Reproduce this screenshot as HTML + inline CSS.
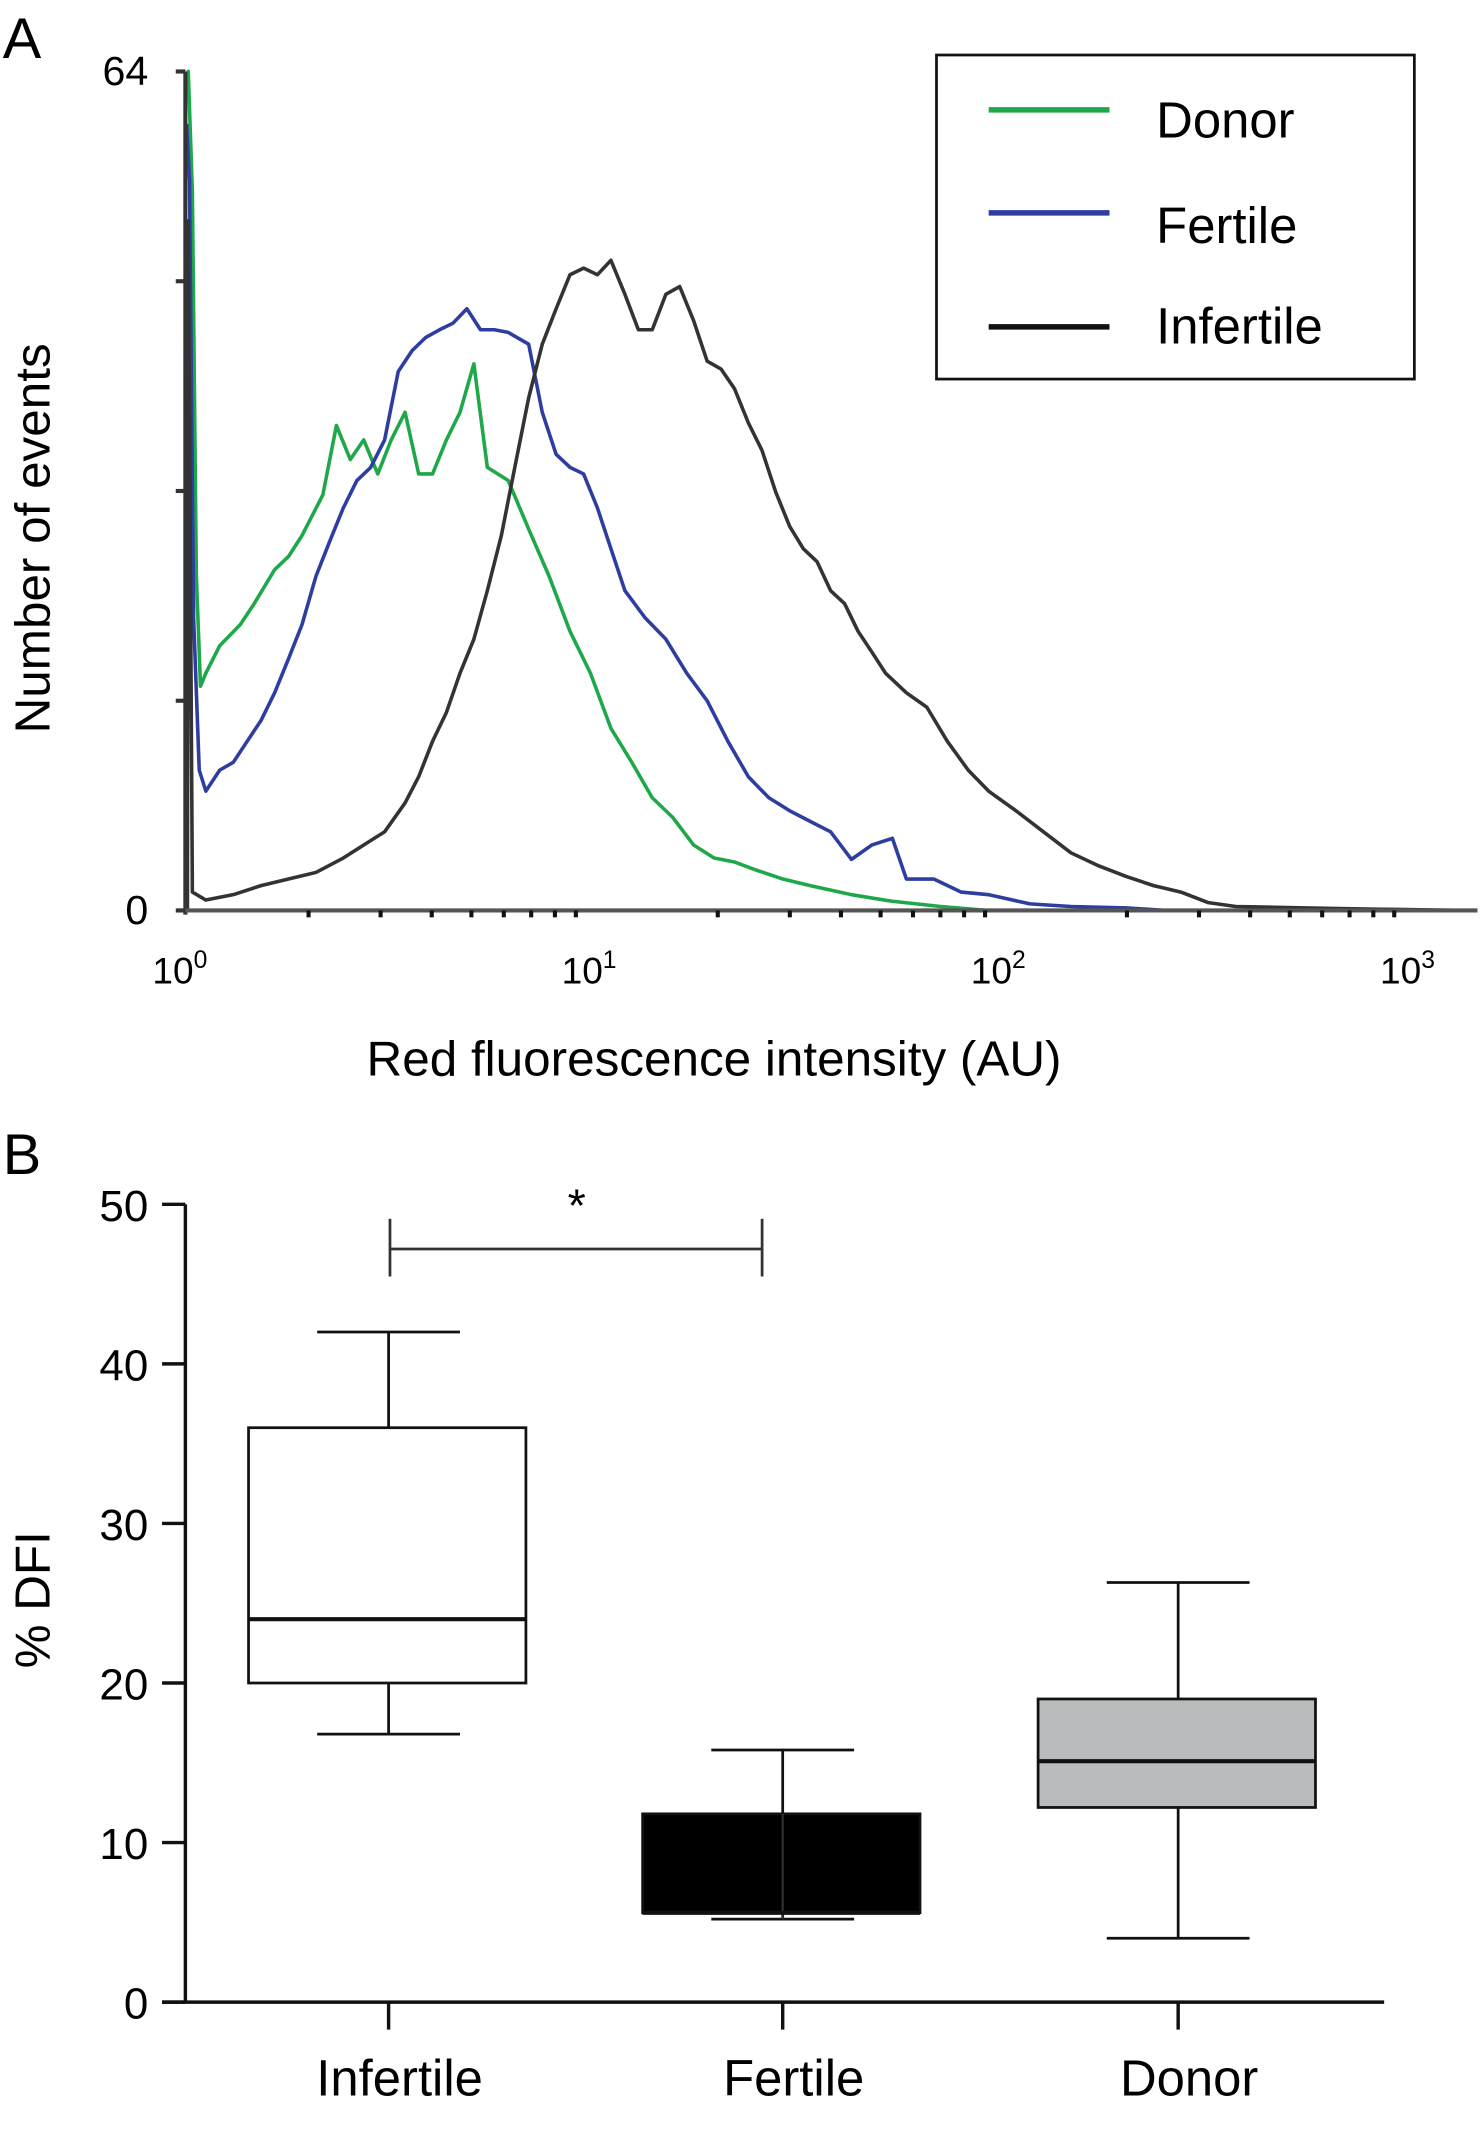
<!DOCTYPE html>
<html><head><meta charset="utf-8"><style>
html,body{margin:0;padding:0;background:#fff;}
svg{display:block;font-family:"Liberation Sans",sans-serif;}
</style></head><body>
<svg id="fig" width="1483" height="2156" viewBox="0 0 1080 1570" xmlns="http://www.w3.org/2000/svg">
<g id="pa"></g>
<g id="pb"></g>
</svg>
<script>
// Panel A data: log10 intensity and event counts
const donorLog=[0.003,0.007,0.017,0.027,0.037,0.050,0.084,0.134,0.168,0.218,0.252,0.285,0.336,0.369,0.403,0.436,0.470,0.503,0.537,0.570,0.604,0.638,0.671,0.705,0.738,0.789,0.839,0.889,0.940,0.990,1.040,1.091,1.141,1.191,1.242,1.292,1.342,1.393,1.460,1.527,1.628,1.728,1.846,1.963];
const donorCount=[64,64,54.8,25.5,17.1,18.1,20.2,21.8,23.4,26.0,27.0,28.6,31.7,37.0,34.4,35.9,33.3,35.9,38.0,33.3,33.3,35.9,38.0,41.7,33.8,32.8,29.1,25.5,21.3,18.1,13.9,11.3,8.6,7.1,5.0,4.0,3.7,3.1,2.4,1.9,1.2,0.7,0.3,0];
const fertileLog=[0.003,0.010,0.020,0.034,0.050,0.084,0.117,0.151,0.185,0.218,0.252,0.285,0.319,0.352,0.386,0.419,0.453,0.487,0.520,0.554,0.587,0.621,0.654,0.688,0.721,0.755,0.789,0.839,0.872,0.906,0.940,0.973,1.007,1.040,1.074,1.124,1.174,1.225,1.275,1.326,1.376,1.426,1.477,1.527,1.577,1.628,1.678,1.728,1.762,1.829,1.896,1.963,2.064,2.164,2.299,2.399];
const fertileCount=[60,55.7,22.3,10.7,9.1,10.7,11.3,12.9,14.5,16.6,19.2,21.8,25.5,28.1,30.7,32.8,33.8,35.9,41.1,42.7,43.7,44.3,44.8,45.9,44.3,44.3,44.1,43.2,38.0,34.8,33.8,33.3,30.7,27.6,24.4,22.3,20.7,18.1,16.0,12.9,10.2,8.6,7.6,6.8,6.0,3.9,5.0,5.5,2.4,2.4,1.4,1.2,0.5,0.3,0.2,0];
const infertileLog=[0.005,0.007,0.017,0.050,0.117,0.185,0.252,0.319,0.386,0.436,0.487,0.537,0.570,0.604,0.638,0.671,0.705,0.738,0.772,0.805,0.839,0.872,0.906,0.940,0.973,1.007,1.040,1.074,1.107,1.141,1.174,1.208,1.242,1.275,1.309,1.342,1.376,1.409,1.443,1.477,1.510,1.544,1.577,1.611,1.644,1.678,1.711,1.762,1.812,1.862,1.913,1.963,2.030,2.097,2.164,2.232,2.299,2.366,2.433,2.500,2.567,2.735,2.903,3.138];
const infertileCount=[0,52.6,1.4,0.8,1.2,1.9,2.4,2.9,4.0,5.0,6.0,8.2,10.2,12.9,15.1,18.1,20.7,24.4,28.6,33.8,39.1,43.2,45.9,48.5,49.0,48.5,49.6,47.0,44.3,44.3,47.0,47.6,45.0,41.9,41.3,39.8,37.2,35.1,31.9,29.3,27.6,26.6,24.4,23.4,21.3,19.7,18.1,16.6,15.5,12.9,10.7,9.1,7.6,6.0,4.4,3.4,2.6,1.9,1.4,0.6,0.3,0.2,0.1,0];
const aYTicks=[0,16,32,48,64];
const aYLabels=["0","","","","64"];
const aXDecades=[0,1,2,3];
// Panel B data
const groups=["Infertile","Fertile","Donor"];
const whiskLo=[16.8,5.2,4.0];
const q1=[20,5.6,12.2];
const med=[24,5.6,15.1];
const q3=[36,11.8,19];
const whiskHi=[42,15.8,26.3];
const fills=["#ffffff","#000000","#b9bcbc"];
const bYTicks=[0,10,20,30,40,50];
const sigY=47.2;

const NS="http://www.w3.org/2000/svg";
function mk(parent,tag,attrs,txt){const e=document.createElementNS(NS,tag);for(const k in attrs)e.setAttribute(k,attrs[k]);if(txt!==undefined)e.textContent=txt;parent.appendChild(e);return e;}

// ---- Panel A
const pa=document.getElementById('pa');
const ax=l=>135+l*298;
const ay=c=>663-c*611/64;
let t=mk(pa,'text',{x:2,y:42,'font-size':42},'A');


// series
const series=[[donorLog,donorCount,'#1fa84a','donor-line'],[fertileLog,fertileCount,'#2d3ea0','fertile-line'],[infertileLog,infertileCount,'#333333','infertile-line']];
series.forEach(s=>{
  const d=s[0].map((l,i)=>(i?'L':'M')+ax(l).toFixed(1)+','+ay(s[1][i]).toFixed(1)).join('');
  const p=mk(pa,'path',{d:d,fill:'none',stroke:s[2],'stroke-width':2.6,'stroke-linejoin':'round'});
  
  
});
// axes
let yaxis=mk(pa,'line',{x1:135,y1:ay(64),x2:135,y2:666,stroke:'#333',"stroke-width":3});


let xaxis=mk(pa,'line',{x1:129,y1:663,x2:1076,y2:663,stroke:'#555',"stroke-width":3});


aYTicks.forEach((v,i)=>{
  const tk=mk(pa,'line',{x1:128,x2:135,y1:ay(v),y2:ay(v),stroke:'#333','stroke-width':3});
  
  
  if(aYLabels[i]){const lb=mk(pa,'text',{x:108,y:ay(v)+10,'font-size':30,'text-anchor':'end'},aYLabels[i]);
  
  }
});
aXDecades.forEach(dd=>{
  const lb=mk(pa,'text',{x:ax(dd)-4,y:716,'font-size':27,'text-anchor':'middle'});
  
  
  lb.innerHTML='10<tspan dy="-11" font-size="18">'+dd+'</tspan>';
  if(dd<3){for(let m=2;m<=9;m++){const mt=mk(pa,'line',{x1:ax(dd+Math.log10(m)),x2:ax(dd+Math.log10(m)),y1:663,y2:668,stroke:'#111','stroke-width':3});
  
  }}
});
t=mk(pa,'text',{x:520,y:783,'font-size':36,'text-anchor':'middle'},'Red fluorescence intensity (AU)');


t=mk(pa,'text',{x:0,y:0,'font-size':36,'text-anchor':'middle',transform:'translate(36,392) rotate(-90)'},'Number of events');


// legend
const lg=mk(pa,'g',{});


mk(lg,'rect',{x:682,y:40,width:348,height:236,fill:'#fff',stroke:'#111','stroke-width':2});
[['Donor','#1fa84a',80,100],['Fertile','#2d3ea0',155,177],['Infertile','#111',238,250]].forEach(e=>{
  const ge=mk(lg,'g',{});
  
  
  mk(ge,'line',{x1:720,x2:808,y1:e[2],y2:e[2],stroke:e[1],'stroke-width':4});
  mk(ge,'text',{x:842,y:e[3],'font-size':37},e[0]);
});

// ---- Panel B
const pb=document.getElementById('pb');
const by=v=>1458-v*11.62;
const bx=[283,570,858];
t=mk(pb,'text',{x:2,y:855,'font-size':42},'B');


let bya=mk(pb,'line',{x1:135,x2:135,y1:by(50),y2:1459,stroke:'#111','stroke-width':2.5});


let bxa=mk(pb,'line',{x1:118,x2:1008,y1:1458,y2:1458,stroke:'#111','stroke-width':2.5});


bYTicks.forEach(v=>{
  const tk=mk(pb,'line',{x1:118,x2:135,y1:by(v),y2:by(v),stroke:'#111','stroke-width':2.5});
  
  
  const lb=mk(pb,'text',{x:108,y:by(v)+12,'font-size':32,'text-anchor':'end'},String(v));
  
  
});
t=mk(pb,'text',{x:0,y:0,'font-size':36,'text-anchor':'middle',transform:'translate(36,1165) rotate(-90)'},'% DFI');


groups.forEach((g,i)=>{
  const cx=bx[i];
  const grp=mk(pb,'g',{});
  
  
  mk(grp,'line',{x1:cx,x2:cx,y1:by(whiskHi[i]),y2:by(q3[i]),stroke:'#111','stroke-width':2});
  mk(grp,'line',{x1:cx,x2:cx,y1:by(q1[i]),y2:by(whiskLo[i]),stroke:'#111','stroke-width':2});
  mk(grp,'line',{x1:cx-52,x2:cx+52,y1:by(whiskHi[i]),y2:by(whiskHi[i]),stroke:'#111','stroke-width':2});
  mk(grp,'line',{x1:cx-52,x2:cx+52,y1:by(whiskLo[i]),y2:by(whiskLo[i]),stroke:'#111','stroke-width':2});
  mk(grp,'rect',{x:cx-102,y:by(q3[i]),width:202,height:by(q1[i])-by(q3[i]),fill:fills[i],stroke:'#111','stroke-width':2});
  if(i===1) mk(grp,'line',{x1:cx,x2:cx,y1:by(q3[i]),y2:by(whiskLo[i]),stroke:'#333','stroke-width':1.5});
  mk(grp,'line',{x1:cx-102,x2:cx+100,y1:by(med[i]),y2:by(med[i]),stroke:'#111','stroke-width':3});
  const tk=mk(pb,'line',{x1:cx,x2:cx,y1:1458,y2:1478,stroke:'#111','stroke-width':2.5});
  
  
  const lb=mk(pb,'text',{x:cx+8,y:1526,'font-size':37,'text-anchor':'middle'},g);
  
  
});
const sg=mk(pb,'g',{});


mk(sg,'line',{x1:284,x2:555,y1:by(sigY),y2:by(sigY),stroke:'#333','stroke-width':2});
mk(sg,'line',{x1:284,x2:284,y1:by(sigY)-22,y2:by(sigY)+20,stroke:'#333','stroke-width':2});
mk(sg,'line',{x1:555,x2:555,y1:by(sigY)-22,y2:by(sigY)+20,stroke:'#333','stroke-width':2});
mk(sg,'text',{x:420,y:by(sigY)-20,'font-size':34,'text-anchor':'middle'},'*');
</script>
</body></html>
